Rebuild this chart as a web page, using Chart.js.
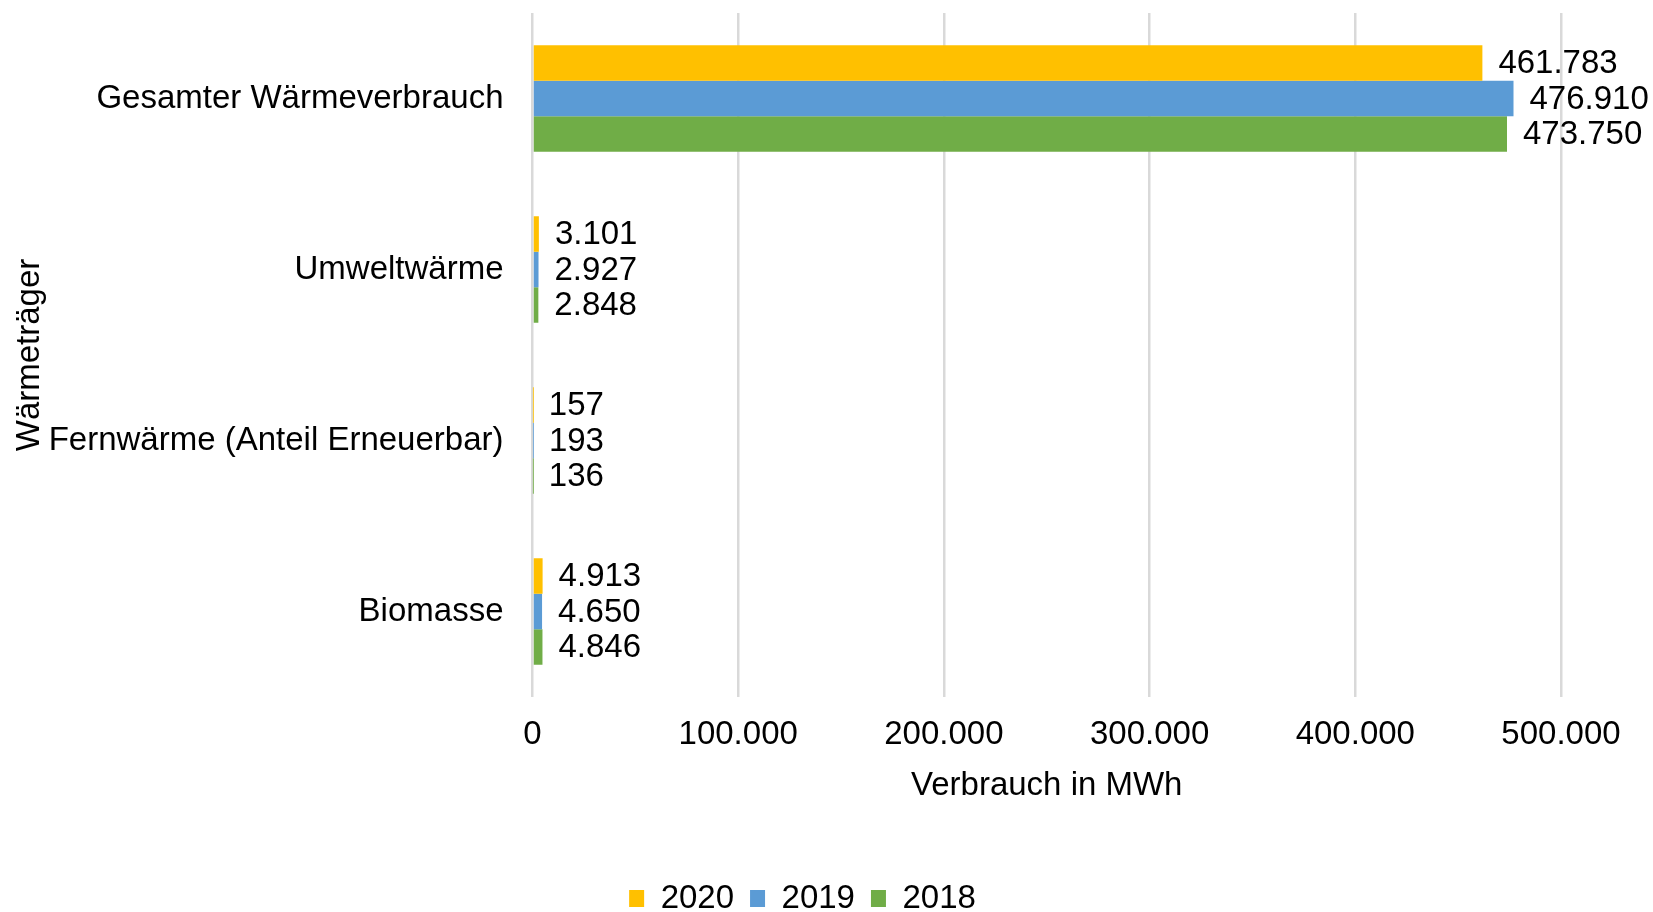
<!DOCTYPE html>
<html lang="de">
<head>
<meta charset="utf-8">
<title>Wärmeverbrauch nach Wärmeträger</title>
<script src="https://cdn.jsdelivr.net/npm/chart.js@4/dist/chart.umd.min.js"></script>
<style>
    html, body { margin: 0; padding: 0; background: #fff; }
    #wrap { width: 1653px; height: 912px; }
</style>
</head>
<body>
<div id="wrap"><canvas id="heatChart"></canvas></div>
<script>
// DATEN
const categories = ['Gesamter Wärmeverbrauch', 'Umweltwärme', 'Fernwärme (Anteil Erneuerbar)', 'Biomasse'];
const years = ['2020', '2019', '2018'];
const values2020 = [461783, 3101, 157, 4913];
const values2019 = [476910, 2927, 193, 4650];
const values2018 = [473750, 2848, 136, 4846];
const xTicks = [0, 100000, 200000, 300000, 400000, 500000];
const colors = ['#FFC000', '#5B9BD5', '#70AD47'];

const FONT = '"Liberation Sans", Arial, sans-serif';
const FS = 33;

// Tausenderpunkt wie im Original (461.783)
function fmt(v) {
    return String(v).replace(/\B(?=(\d{3})+(?!\d))/g, '.');
}

// Werte neben die Balken schreiben (kein datalabels-Plugin verfügbar)
const valueLabels = {
    id: 'valueLabels',
    afterDatasetsDraw(chart) {
        const ctx = chart.ctx;
        ctx.save();
        ctx.font = FS + 'px ' + FONT;
        ctx.fillStyle = '#000';
        ctx.textAlign = 'left';
        ctx.textBaseline = 'middle';
        chart.data.datasets.forEach((ds, i) => {
            chart.getDatasetMeta(i).data.forEach((bar, j) => {
                ctx.fillText(fmt(ds.data[j]), bar.x + 16, bar.y + 1);
            });
        });
        ctx.restore();
    }
};

const allValues = [values2020, values2019, values2018];

new Chart(document.getElementById('heatChart'), {
    type: 'bar',
    data: {
        labels: categories,
        datasets: years.map((y, i) => ({
            label: y,
            data: allValues[i],
            backgroundColor: colors[i],
            borderWidth: 0,
            categoryPercentage: 0.623,
            barPercentage: 1
        }))
    },
    options: {
        indexAxis: 'y',
        responsive: true,
        maintainAspectRatio: false,
        animation: false,
        // links/rechts so gewählt, dass die Legende wie im Original etwas links der Mitte sitzt
        layout: { padding: { top: 13, left: 44, right: 92, bottom: -13 } },
        plugins: {
            legend: {
                position: 'bottom',
                labels: {
                    boxWidth: 15,
                    boxHeight: 17,
                    padding: 16,
                    color: '#000',
                    font: { family: FONT, size: FS }
                }
            },
            tooltip: { enabled: false }
        },
        scales: {
            x: {
                min: 0,
                max: 500000,
                afterBuildTicks: (scale) => { scale.ticks = xTicks.map(v => ({ value: v })); },
                afterFit: (scale) => { scale.height = 169; },
                grid: { color: '#D9D9D9', lineWidth: 2.5, drawTicks: false },
                border: { display: false },
                ticks: {
                    padding: 18,
                    color: '#000',
                    font: { family: FONT, size: FS },
                    callback: (v) => fmt(v)
                },
                title: {
                    display: true,
                    text: 'Verbrauch in MWh',
                    color: '#000',
                    font: { family: FONT, size: FS },
                    padding: { top: 0, bottom: 60 }
                }
            },
            y: {
                afterFit: (scale) => { scale.width = 488.5; },
                grid: { display: false, drawTicks: true, tickLength: 29, tickColor: 'transparent' },
                border: { display: false },
                ticks: {
                    padding: 0,
                    color: '#000',
                    // kleine lineHeight, sonst schiebt Chart.js die Fläche oben nach unten
                    font: { family: FONT, size: FS, lineHeight: 0.75 }
                },
                title: {
                    display: true,
                    text: 'Wärmeträger',
                    color: '#000',
                    font: { family: FONT, size: FS },
                    // negativ, damit der Titel trotz linkem Padding am Rand bleibt
                    padding: { top: -34, bottom: 0 }
                }
            }
        }
    },
    plugins: [valueLabels]
});
</script>
</body>
</html>
